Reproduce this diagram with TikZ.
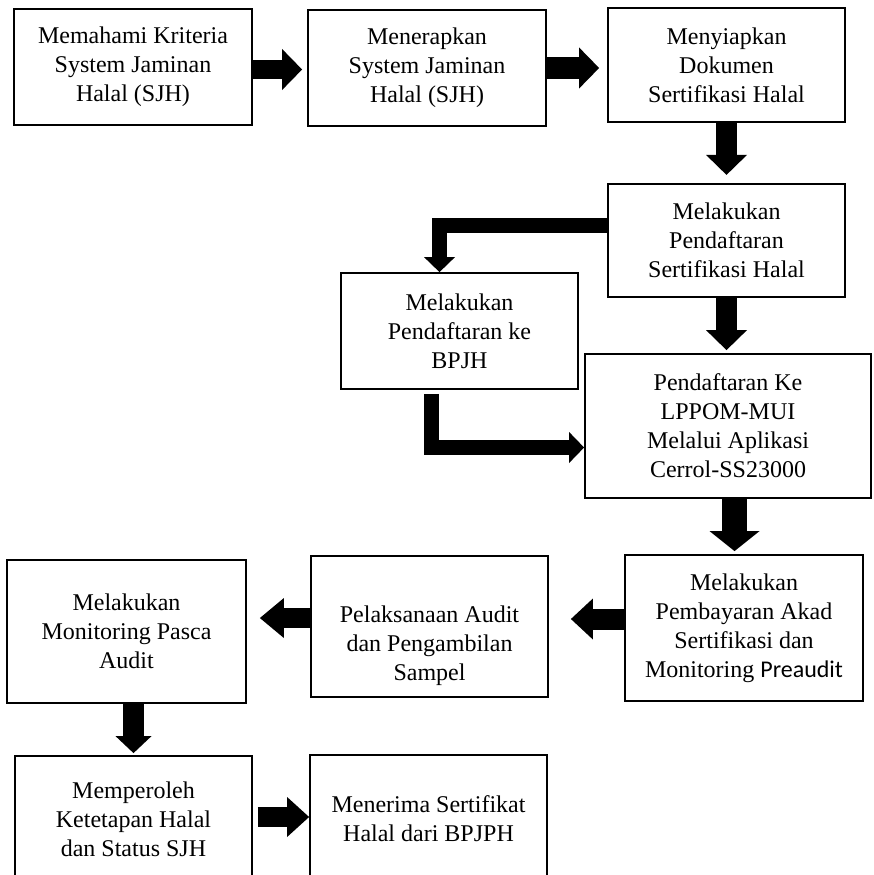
\documentclass[tikz,border=0pt]{standalone}
\usepackage{fontspec}
\setmainfont{Liberation Serif}
\newfontfamily\calibri{Carlito}
\usetikzlibrary{arrows.meta,positioning,calc}

\begin{document}
\begin{tikzpicture}[x=1pt,y=-1pt]
			\tikzset{
				box text/.style={
						align=center,
						font=\fontsize{24}{29}\selectfont,
					},
				step box/.style={
						box text, draw, line width=1.8pt, inner sep=0pt,
						minimum width=237pt, minimum height=116pt,
					},
				fat arrow/.style={
						line width=21pt,
						-{Triangle[width=41pt,length=20pt,line width=0pt]},
					},
				bent arrow/.style={
						line width=15pt, line join=miter,
						-{Triangle[width=31pt,length=15pt,line width=0pt]},
					},
			}
			\useasboundingbox (0,0) rectangle (873,875);
			%
			\node[step box, minimum width=238pt] (kriteria) at (133,67) {Memahami Kriteria\\System Jaminan\\Halal (SJH)};
			\node[step box, minimum width=238pt] (terapkan) at (427,68) {Menerapkan\\System Jaminan\\Halal (SJH)};
			\node[step box, minimum height=114pt] (dokumen) at (726.5,65) {Menyiapkan\\Dokumen\\Sertifikasi Halal};
			\node[step box, minimum height=113pt, below=60pt of dokumen] (daftar) {Melakukan\\Pendaftaran\\Sertifikasi Halal};
			\node[step box] (bpjh) at (459.5,331) {Melakukan\\Pendaftaran ke\\BPJH};
			\node[step box, minimum width=286pt, minimum height=144pt] (lppom) at (728,426) {Pendaftaran Ke\\LPPOM-MUI\\Melalui Aplikasi\\Cerrol-SS23000};
			\node[step box, minimum width=238pt, minimum height=146pt] (bayar) at (744,628) {Melakukan\\Pembayaran Akad\\Sertifikasi dan\\Monitoring {\calibri Preaudit}};
			\node[step box, minimum height=141pt] (audit) at (429.5,626.5) {};
			\node[box text] (audittxt) at ([yshift=-19pt]audit.center) {Pelaksanaan Audit\\dan Pengambilan\\Sampel};
			\node[step box, minimum width=239pt, minimum height=143pt] (pasca) at (126.5,631.5) {Melakukan\\Monitoring Pasca\\Audit};
			\node[step box, minimum height=127pt] (ketetapan) at (133.5,819.5) {Memperoleh\\Ketetapan Halal\\dan Status SJH};
			\node[step box, minimum height=128pt] (sertifikat) at (428.5,819) {Menerima Sertifikat\\Halal dari BPJPH};
			%
			\draw[fat arrow, line width=19pt, shorten >=5pt] ([yshift=-2.5pt]kriteria.east) -- ([yshift=-2.5pt]kriteria.east -| terapkan.west);
			\draw[fat arrow, shorten >=8pt] (terapkan.east) -- (terapkan.east -| dokumen.west);
			\draw[fat arrow, shorten >=8pt] (dokumen.south) -- (daftar.north);
			\draw[bent arrow] ([yshift=14.5pt]daftar.west) -| ([xshift=-20pt]bpjh.north);
			\draw[bent arrow] ([xshift=-28.5pt,yshift=-4pt]bpjh.south) |- ([yshift=-21.5pt]lppom.west);
			\draw[fat arrow, shorten >=3pt] (daftar.south) -- (daftar.south |- lppom.north);
			\draw[fat arrow, line width=25pt, -{Triangle[width=50pt,length=20pt,line width=0pt]}, shorten >=3pt] ([xshift=6.5pt]lppom.south) -- ([xshift=6.5pt]lppom.south |- bayar.north);
			\draw[fat arrow, -{Triangle[width=41pt,length=22pt,line width=0pt]}, shorten >=22pt] ([yshift=9pt]bayar.west) -- ([yshift=9pt]bayar.west -| audit.east);
			\draw[fat arrow, line width=20pt, -{Triangle[width=40pt,length=24pt,line width=0pt]}, shorten >=13pt] ([yshift=8.5pt]audit.west) -- ([yshift=8.5pt]audit.west -| pasca.east);
			\draw[fat arrow, -{Triangle[width=36pt,length=17pt,line width=0pt]}, shorten >=2pt] (pasca.south -| ketetapan.north) -- (ketetapan.north);
			\draw[fat arrow, line width=20pt, -{Triangle[width=40pt,length=22pt,line width=0pt]}, shorten <=5pt] ([yshift=2.5pt]ketetapan.east) -- ([yshift=2.5pt]ketetapan.east -| sertifikat.west);
\end{tikzpicture}
\end{document}
